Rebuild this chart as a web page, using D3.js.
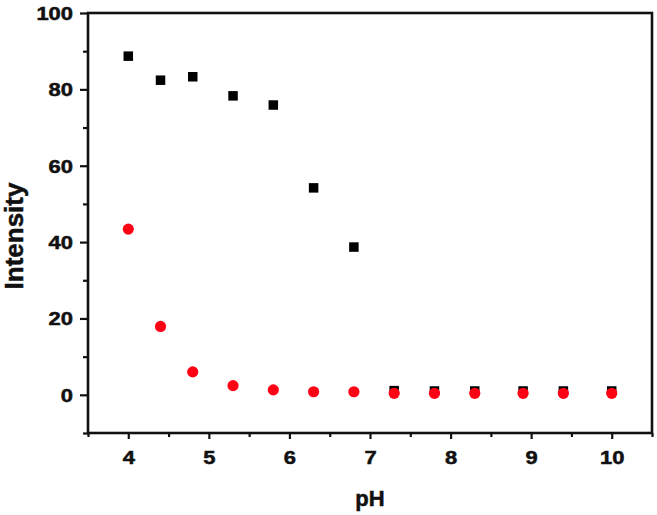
<!DOCTYPE html>
<html>
<head>
<meta charset="utf-8">
<script src="https://cdn.jsdelivr.net/npm/d3@7"></script>
<style>
  body { margin: 0; background: #fff; }
  svg text { font-family: "Liberation Sans", Arial, sans-serif; font-weight: bold; fill: #111; stroke: #111; stroke-width: 0.5px; }
</style>
</head>
<body>
<div id="chart"></div>
<script>
// pH values and the two intensity series
const phBlack = [4.0, 4.4, 4.8, 5.3, 5.8, 6.3, 6.8, 7.3, 7.8, 8.3, 8.9, 9.4, 10.0];
const intensityBlack = [88.7, 82.4, 83.3, 78.3, 75.9, 54.2, 38.7, 1.1, 1.0, 1.0, 1.0, 1.0, 1.0];
const phRed = [4.0, 4.4, 4.8, 5.3, 5.8, 6.3, 6.8, 7.3, 7.8, 8.3, 8.9, 9.4, 10.0];
const intensityRed = [43.4, 17.9, 6.0, 2.4, 1.3, 0.8, 0.8, 0.4, 0.4, 0.4, 0.4, 0.4, 0.4];

const xTicks = [4, 5, 6, 7, 8, 9, 10];
const xMinor = [3.5, 4.5, 5.5, 6.5, 7.5, 8.5, 9.5, 10.5];
const yTicks = [0, 20, 40, 60, 80, 100];
const yMinor = [-10, 10, 30, 50, 70, 90];

const W = 657, H = 515;
const margin = {top: 13, right: 5, bottom: 82, left: 88};
const width = W - margin.left - margin.right,
      height = H - margin.top - margin.bottom;

const svg = d3.select("#chart")
  .append("svg")
    .attr("width", W)
    .attr("height", H);

const g = svg.append("g")
    .attr("transform", "translate(" + margin.left + "," + margin.top + ")");

const x = d3.scaleLinear().domain([3.5, 10.5]).range([0, width]);
const y = d3.scaleLinear().domain([-10, 100]).range([height, 0]);

const sx = 1.22; // tick labels look horizontally stretched in the original

// minor ticks
g.append("g")
    .attr("transform", "translate(0," + height + ")")
    .call(d3.axisBottom(x).tickValues(xMinor).tickSize(4).tickFormat(""));
g.append("g")
    .call(d3.axisLeft(y).tickValues(yMinor).tickSize(5).tickFormat(""));

// major ticks
const xAxis = g.append("g")
    .attr("transform", "translate(0," + height + ")")
    .call(d3.axisBottom(x).tickValues(xTicks).tickSize(6).tickPadding(12).tickFormat(d3.format("d")));
xAxis.selectAll("text")
    .style("font-size", "18px")
    .attr("transform", "scale(" + sx + ",1)");

const yAxis = g.append("g")
    .call(d3.axisLeft(y).tickValues(yTicks).tickSize(8).tickPadding(7));
yAxis.selectAll("text")
    .style("font-size", "18px")
    .attr("x", -15 / sx)
    .attr("dy", "0.36em")
    .attr("transform", "scale(" + sx + ",1)");

g.selectAll(".domain").remove();
g.selectAll(".tick line").attr("stroke", "#111").attr("stroke-width", 2.2);

// frame
g.append("rect")
    .attr("x", 0)
    .attr("y", 0)
    .attr("width", width)
    .attr("height", height)
    .attr("fill", "none")
    .attr("stroke", "#111")
    .attr("stroke-width", 2.6);

// black squares
const sq = 9.5;
g.selectAll(".sq")
    .data(phBlack.map((p, i) => ({p: p, v: intensityBlack[i]})))
    .enter()
    .append("rect")
    .attr("class", "sq")
    .attr("x", d => x(d.p) - sq / 2)
    .attr("y", d => y(d.v) - sq / 2)
    .attr("width", sq)
    .attr("height", sq)
    .attr("fill", "#000");

// red circles
g.selectAll(".dot")
    .data(phRed.map((p, i) => ({p: p, v: intensityRed[i]})))
    .enter()
    .append("circle")
    .attr("class", "dot")
    .attr("cx", d => x(d.p))
    .attr("cy", d => y(d.v))
    .attr("r", 5.6)
    .attr("fill", "#ff0014");

// axis titles
svg.append("text")
    .attr("x", margin.left + width / 2)
    .attr("y", 506)
    .attr("text-anchor", "middle")
    .style("font-size", "22px")
    .text("pH");

svg.append("text")
    .attr("transform", "translate(22.5,236) rotate(-90)")
    .attr("text-anchor", "middle")
    .style("font-size", "26px")
    .text("Intensity");
</script>
</body>
</html>
